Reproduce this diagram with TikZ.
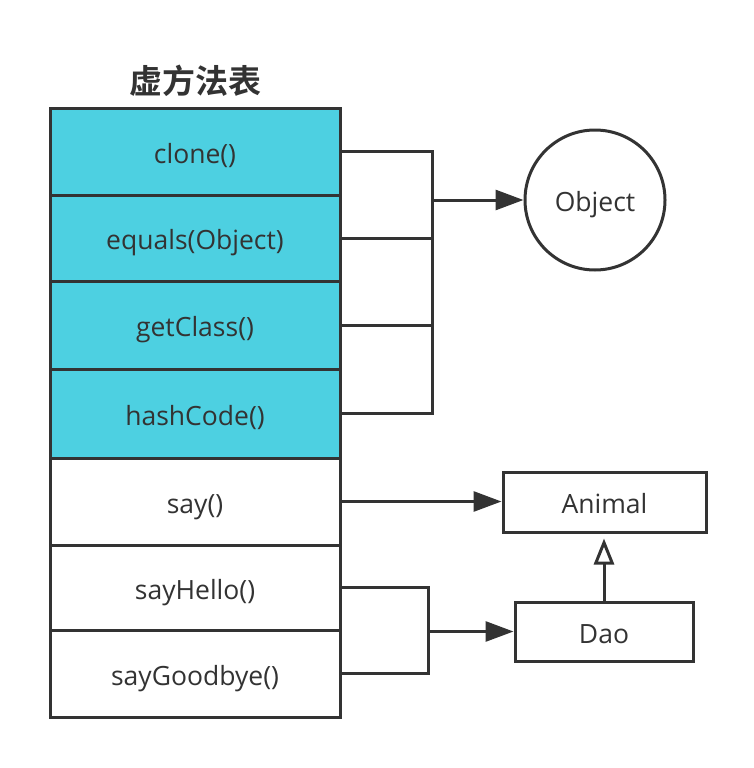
\documentclass[tikz,border=0pt]{standalone}
\usepackage{fontspec}
\setmainfont{Open Sans}
\newfontfamily\cjk{Noto Sans CJK SC}[BoldFont={Noto Sans CJK SC Bold}]
\usetikzlibrary{arrows.meta}
\definecolor{ln}{HTML}{333333}
\definecolor{cy}{HTML}{4DD0E1}
\begin{document}
\begin{tikzpicture}[x=1pt,y=-1pt,
  every node/.style={text=ln},
  base/.style={draw=ln, line width=3pt, font=\fontsize{26.5}{30}\selectfont, text height=23pt, text depth=0pt},
  row/.style={base, rectangle, minimum width=290pt, inner sep=0pt},
  vrow/.style={row, fill=cy},
  wrow/.style={row, fill=white},
  conn/.style={draw=ln, line width=3pt},
  arr/.style={conn, -{Triangle[length=28pt,width=20pt]}},
  inh/.style={conn, -{Triangle[open,fill=white,length=26pt,width=20pt]}},
]
\useasboundingbox (0,0) rectangle (754,768);
\node[font=\cjk\bfseries\fontsize{33}{36}\selectfont] (title) at (195,81) {虚方法表};
\node[vrow, minimum height=87pt] (clone) at (195,151.5) {clone()};
\node[vrow, minimum height=86pt] (eq) at (195,238) {equals(Object)};
\node[vrow, minimum height=88pt] (gc) at (195,325) {getClass()};
\node[vrow, minimum height=89pt] (hash) at (195,413.5) {hashCode()};
\node[wrow, minimum height=87pt] (say) at (195,501.5) {say()};
\node[wrow, minimum height=85pt] (hello) at (195,587.5) {sayHello()};
\node[wrow, minimum height=87pt] (bye) at (195,673.5) {sayGoodbye()};
\node[base, circle, minimum size=140pt, inner sep=0pt, fill=white] (obj) at (595,200) {Object};
\node[base, rectangle, minimum width=203pt, minimum height=60pt, inner sep=0pt, fill=white] (animal) at (604.5,502) {Animal};
\node[base, rectangle, minimum width=178pt, minimum height=59pt, inner sep=0pt, fill=white] (dao) at (604,631.5) {Dao};
\coordinate (bx) at (432,0);
\coordinate (bx2) at (428,0);
\draw[conn] (clone.east) -- (clone.east -| bx) -- (hash.east -| bx) -- (hash.east);
\draw[conn] (eq.east) -- (eq.east -| bx);
\draw[conn] (gc.east) -- (gc.east -| bx);
\draw[arr] (obj.west -| bx) -- (obj.west);
\draw[arr] (say.east) -- (say.east -| animal.west);
\draw[conn] (hello.east) -- (hello.east -| bx2) -- (bye.east -| bx2) -- (bye.east);
\draw[arr] (dao.west -| bx2) -- (dao.west);
\draw[inh, shorten >=5pt] (dao.north) -- (dao.north |- animal.south);
\end{tikzpicture}
\end{document}
